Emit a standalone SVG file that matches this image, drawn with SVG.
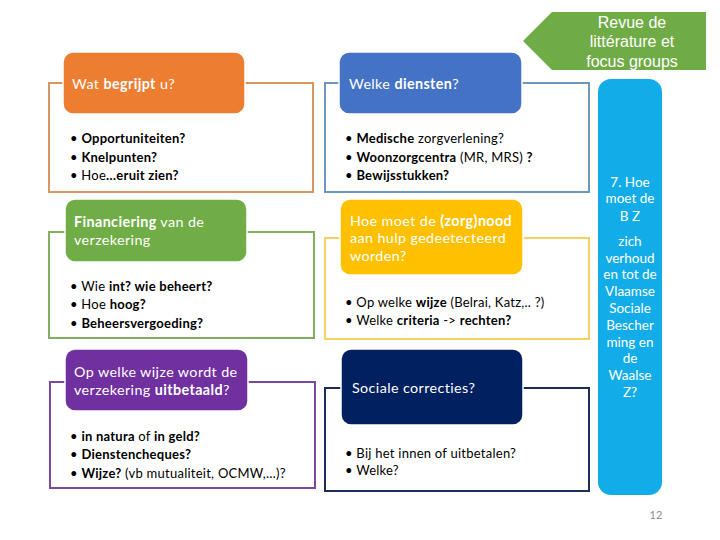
<svg xmlns="http://www.w3.org/2000/svg" width="720" height="540" viewBox="0 0 720 540">
<style>
text{font-family:Lato,"Noto Sans","Liberation Sans",sans-serif}
.frame{fill:#fff;stroke-width:2}
.hd{stroke:#fff;stroke-width:1.5}
.ht{fill:#fff;font-size:14.3px;letter-spacing:0.4px}
.bt{fill:#000;font-size:13px;letter-spacing:0.25px}
.b{font-weight:bold}
.rt{fill:#fff;font-size:13.5px;text-anchor:middle}
.bn{fill:#fff;font-size:16px;text-anchor:middle;font-family:"Liberation Sans",Arial,sans-serif}
</style>
<rect width="720" height="540" fill="#fff"/>
<g id="banner">
<polygon points="523,41 552,12 706,12 706,70 552,70" fill="#6FAC46"/>
<text class="bn" x="632" y="28">Revue de</text>
<text class="bn" x="632" y="47">littérature et</text>
<text class="bn" x="632" y="67">focus groups</text>
</g>
<g id="node-wat">
<rect class="frame" x="49" y="83" width="264" height="109" stroke="#D99562"/>
<rect class="hd" x="63" y="52" width="182" height="62" rx="10" fill="#ED7D31"/>
<text class="ht" x="72" y="89">Wat <tspan class="b">begrijpt</tspan> u?</text>
<text class="bt" x="70" y="143">• <tspan class="b">Opportuniteiten?</tspan></text>
<text class="bt" x="70" y="162">• <tspan class="b">Knelpunten?</tspan></text>
<text class="bt" x="70" y="180">• Hoe<tspan class="b">…eruit zien?</tspan></text>
</g>
<g id="node-financiering">
<rect class="frame" x="49" y="232" width="265" height="106" stroke="#80AF5E"/>
<rect class="hd" x="65" y="199" width="182" height="63" rx="10" fill="#70AD47"/>
<text class="ht" x="74" y="227"><tspan class="b">Financiering</tspan> van de</text>
<text class="ht" x="74" y="245">verzekering</text>
<text class="bt" x="70" y="291">• Wie <tspan class="b">int? wie beheert?</tspan></text>
<text class="bt" x="70" y="309">• Hoe <tspan class="b">hoog?</tspan></text>
<text class="bt" x="70" y="328">• <tspan class="b">Beheersvergoeding?</tspan></text>
</g>
<g id="node-uitbetaald">
<rect class="frame" x="50" y="382" width="265" height="106" stroke="#7B48A3"/>
<rect class="hd" x="65" y="349" width="183" height="62" rx="10" fill="#7030A0"/>
<text class="ht" x="74" y="377">Op welke wijze wordt de</text>
<text class="ht" x="74" y="395">verzekering <tspan class="b">uitbetaald</tspan>?</text>
<text class="bt" x="70" y="441">• <tspan class="b">in natura</tspan> of <tspan class="b">in geld?</tspan></text>
<text class="bt" x="70" y="459">• <tspan class="b">Dienstencheques?</tspan></text>
<text class="bt" x="70" y="478">• <tspan class="b">Wijze?</tspan> (vb mutualiteit, OCMW,…)?</text>
</g>
<g id="node-diensten">
<rect class="frame" x="325" y="83" width="264" height="109" stroke="#6E97BF"/>
<rect class="hd" x="339" y="52" width="183" height="62" rx="10" fill="#4472C4"/>
<text class="ht" x="349" y="89">Welke <tspan class="b">diensten</tspan>?</text>
<text class="bt" x="345" y="143">• <tspan class="b">Medische</tspan> zorgverlening?</text>
<text class="bt" x="345" y="162">• <tspan class="b">Woonzorgcentra</tspan> (MR, MRS) <tspan class="b">?</tspan></text>
<text class="bt" x="345" y="180">• <tspan class="b">Bewijsstukken?</tspan></text>
</g>
<g id="node-zorgnood">
<rect class="frame" x="325" y="238" width="264" height="101" stroke="#F3D162"/>
<rect class="hd" x="340" y="199" width="183" height="76" rx="10" fill="#FFC000"/>
<text class="ht" x="350" y="226">Hoe moet de <tspan class="b">(zorg)nood</tspan></text>
<text class="ht" x="350" y="243">aan hulp gedeetecteerd</text>
<text class="ht" x="350" y="261">worden?</text>
<text class="bt" x="345" y="307">• Op welke <tspan class="b">wijze</tspan> (Belrai, Katz,.. ?)</text>
<text class="bt" x="345" y="325">• Welke <tspan class="b">criteria</tspan> -&gt; <tspan class="b">rechten?</tspan></text>
</g>
<g id="node-sociale">
<rect class="frame" x="325" y="388" width="264" height="103" stroke="#1C2D5A"/>
<rect class="hd" x="341" y="349" width="182" height="76" rx="10" fill="#002060"/>
<text class="ht" x="352" y="393">Sociale correcties?</text>
<text class="bt" x="345" y="458">• Bij het innen of uitbetalen?</text>
<text class="bt" x="345" y="475">• Welke?</text>
</g>
<g id="node-bz">
<rect x="598" y="79" width="64" height="416" rx="13" fill="#12ACE8"/>
<text class="rt" x="630" y="187">7. Hoe</text>
<text class="rt" x="630" y="203">moet de</text>
<text class="rt" x="630" y="221">B Z</text>
<text class="rt" x="630" y="246">zich</text>
<text class="rt" x="630" y="263">verhoud</text>
<text class="rt" x="630" y="279">en tot de</text>
<text class="rt" x="630" y="296">Vlaamse</text>
<text class="rt" x="630" y="313">Sociale</text>
<text class="rt" x="630" y="330">Bescher</text>
<text class="rt" x="630" y="347">ming en</text>
<text class="rt" x="630" y="363">de</text>
<text class="rt" x="630" y="380">Waalse</text>
<text class="rt" x="630" y="397">Z?</text>
</g>
<text x="656" y="519" fill="#8C8C8C" font-size="11" text-anchor="middle">12</text>
</svg>
